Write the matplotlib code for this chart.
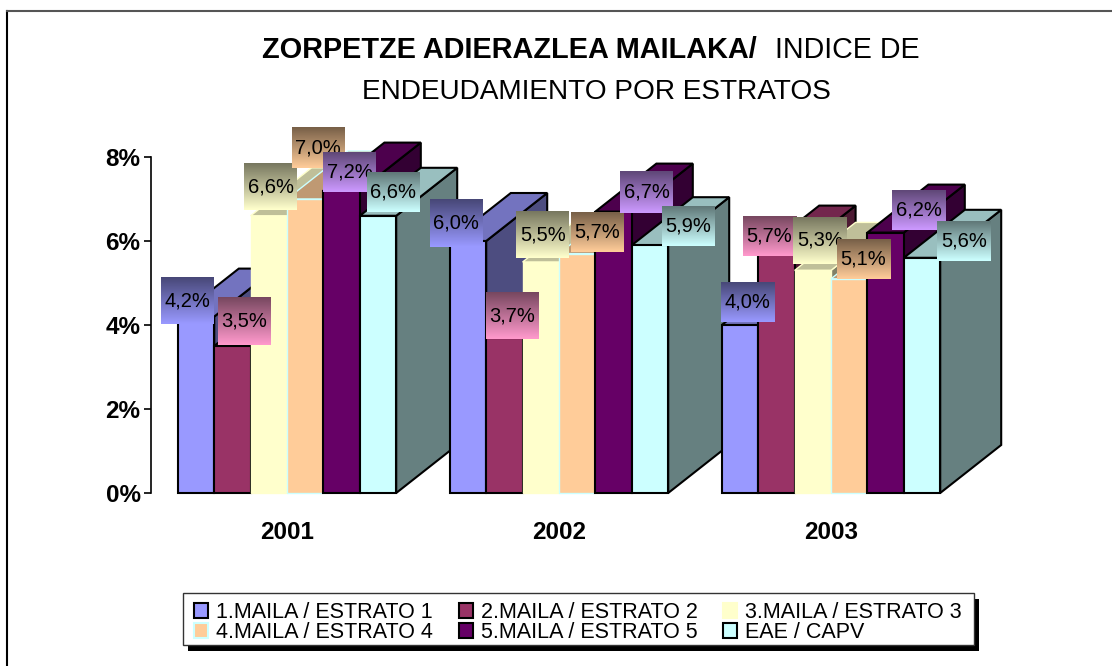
import numpy as np
import matplotlib
matplotlib.use('Agg')
import matplotlib.pyplot as plt
from matplotlib.patches import Patch, Polygon, Rectangle
from matplotlib.colors import LinearSegmentedColormap, to_rgb

plt.rcParams['font.family'] = ['Liberation Sans', 'DejaVu Sans']

years = ['2001', '2002', '2003']
series_names = ['1.MAILA / ESTRATO 1', '2.MAILA / ESTRATO 2', '3.MAILA / ESTRATO 3',
                '4.MAILA / ESTRATO 4', '5.MAILA / ESTRATO 5', 'EAE / CAPV']
estrato1 = [4.2, 6.0, 4.0]
estrato2 = [3.5, 3.7, 5.7]
estrato3 = [6.6, 5.5, 5.3]
estrato4 = [7.0, 5.7, 5.1]
estrato5 = [7.2, 6.7, 6.2]
capv = [6.6, 5.9, 5.6]
values = [estrato1, estrato2, estrato3, estrato4, estrato5, capv]
y_ticks = [0, 2, 4, 6, 8]

colors = ['#9999FF', '#993366', '#FFFFCC', '#FFCC99', '#660066', '#CCFFFF']
edges = ['black', 'black', '#FFFFCC', '#CCFFFF', 'black', 'black']
label_colors = ['#9999FF', '#FF99CC', '#FFFFCC', '#FFCC99', '#CC99FF', '#CCFFFF']

# label box shifts from the bar top centre, in pixels (x, y up), by series then year
label_shift = [[(-9, 16), (-12, 18), (7, 23)],
               [(12, 25), (8, 22), (-7, 18)],
               [(2, 29), (2, 27), (7, 30)],
               [(13, 51), (20, 22), (14, 20)],
               [(8, 19), (33, 20), (33, 23)],
               [(15, 24), (38, 19), (42, 17)]]
box_heights = [[47, 48, 40], [48, 47, 40], [47, 47, 47], [40, 40, 40], [40, 42, 40], [40, 40, 40]]

W, H = 1112, 666
fig = plt.figure(figsize=(W / 100, H / 100), dpi=100)
ax = fig.add_axes([151 / W, 1 - 493 / H, 816 / W, 336 / H])
ax.set_xlim(0, 3)
ax.set_ylim(0, 8)
px_x = 3 / 816
px_y = 8 / 336

bar_w = 36.4 * px_x
depth_x = 61 * px_x
depth_y = 48 * px_y


def shade(color, f):
    return tuple(c * f for c in to_rgb(color))


# bars, back to front from left to right so each one covers the side of the last
zo = 2
for g in range(3):
    for s, vals in enumerate(values):
        x0 = g + 0.5 + (s - 3) * bar_w
        x1 = x0 + bar_w
        v = vals[g]
        ec = edges[s]
        lw = 1.5 if ec == 'black' else 1.0
        ax.add_patch(Polygon([(x1, 0), (x1 + depth_x, depth_y), (x1 + depth_x, v + depth_y), (x1, v)],
                             fc=shade(colors[s], 0.5), ec=ec, lw=lw, zorder=zo, clip_on=False))
        ax.add_patch(Polygon([(x0, v), (x0 + depth_x, v + depth_y), (x1 + depth_x, v + depth_y), (x1, v)],
                             fc=shade(colors[s], 0.75), ec=ec, lw=lw, zorder=zo, clip_on=False))
        ax.add_patch(Rectangle((x0, 0), bar_w, v, fc=colors[s], ec=ec, lw=lw, zorder=zo + 0.5, clip_on=False))
        zo += 1

# gradient value labels
zo = 100
for g in range(3):
    for s, vals in enumerate(values):
        v = vals[g]
        cx = g + 0.5 + (s - 2.5) * bar_w + label_shift[s][g][0] * px_x
        cy = v + label_shift[s][g][1] * px_y
        hw = 26.5 * px_x
        hh = box_heights[s][g] / 2 * px_y
        cmap = LinearSegmentedColormap.from_list('lab', [shade(label_colors[s], 0.47), label_colors[s]])
        ax.imshow(np.linspace(0, 1, 48).reshape(-1, 1), cmap=cmap, vmin=0, vmax=1, aspect='auto',
                  extent=(cx - hw, cx + hw, cy - hh, cy + hh), origin='upper', zorder=zo, clip_on=False)
        ax.text(cx, cy, f'{v:.1f}%'.replace('.', ','), ha='center', va='center', fontsize=14.5,
                color='black', zorder=zo + 0.5)
        zo += 1
ax.set_xlim(0, 3)
ax.set_ylim(0, 8)
ax.set_aspect('auto')

for sp in ['top', 'right', 'bottom']:
    ax.spines[sp].set_visible(False)
ax.spines['left'].set_linewidth(1.2)
ax.patch.set_visible(False)
ax.set_xticks([0.5, 1.5, 2.5], years, fontsize=17.5, fontweight='bold')
ax.set_yticks(y_ticks, [f'{t}%' for t in y_ticks], fontsize=17.5, fontweight='bold')
ax.tick_params(axis='x', length=0, pad=20)
ax.tick_params(axis='y', length=5, width=1.2, pad=2.5)

# title, two weights on the first line
fig.text(262 / W, 1 - 50 / H, 'ZORPETZE ADIERAZLEA MAILAKA/', fontsize=20.8, fontweight='bold', va='center')
fig.text(775 / W, 1 - 50 / H, 'INDICE DE', fontsize=20.6, va='center')
fig.text(596 / W, 1 - 92 / H, 'ENDEUDAMIENTO POR ESTRATOS', fontsize=20.2, ha='center', va='center')

# chart frame
fig.add_artist(plt.Line2D([7 / W, 7 / W], [0, 1 - 11 / H], color='black', lw=1.5))
fig.add_artist(plt.Line2D([7 / W, 1], [1 - 11 / H, 1 - 11 / H], color='#555555', lw=1.5))

# legend box and its hard shadow are drawn apart so the entries can sit where they should
ax.add_patch(Rectangle((188 / W, 1 - 651 / H), 791 / W, 52 / H, transform=fig.transFigure,
                       fc='black', ec='none', zorder=190, clip_on=False))
ax.add_patch(Rectangle((183 / W, 1 - 645 / H), 791 / W, 52 / H, transform=fig.transFigure,
                       fc='white', ec='#333333', lw=1.0, zorder=191, clip_on=False))
handles = [Patch(fc=colors[s], ec=edges[s], lw=1.5, label=series_names[s]) for s in [0, 3, 1, 4, 2, 5]]
leg = ax.legend(handles=handles, ncol=3, loc='lower left', bbox_to_anchor=(194 / W, 1 - 643 / H, 768 / W, 40 / H),
                bbox_transform=fig.transFigure, fontsize=15.5, frameon=False,
                handlelength=0.65, handleheight=0.65, handletextpad=0.37, columnspacing=1.0,
                labelspacing=-0.05, borderpad=0, borderaxespad=0, mode='expand')
leg.set_zorder(200)

fig.savefig('out.png', dpi=100)
